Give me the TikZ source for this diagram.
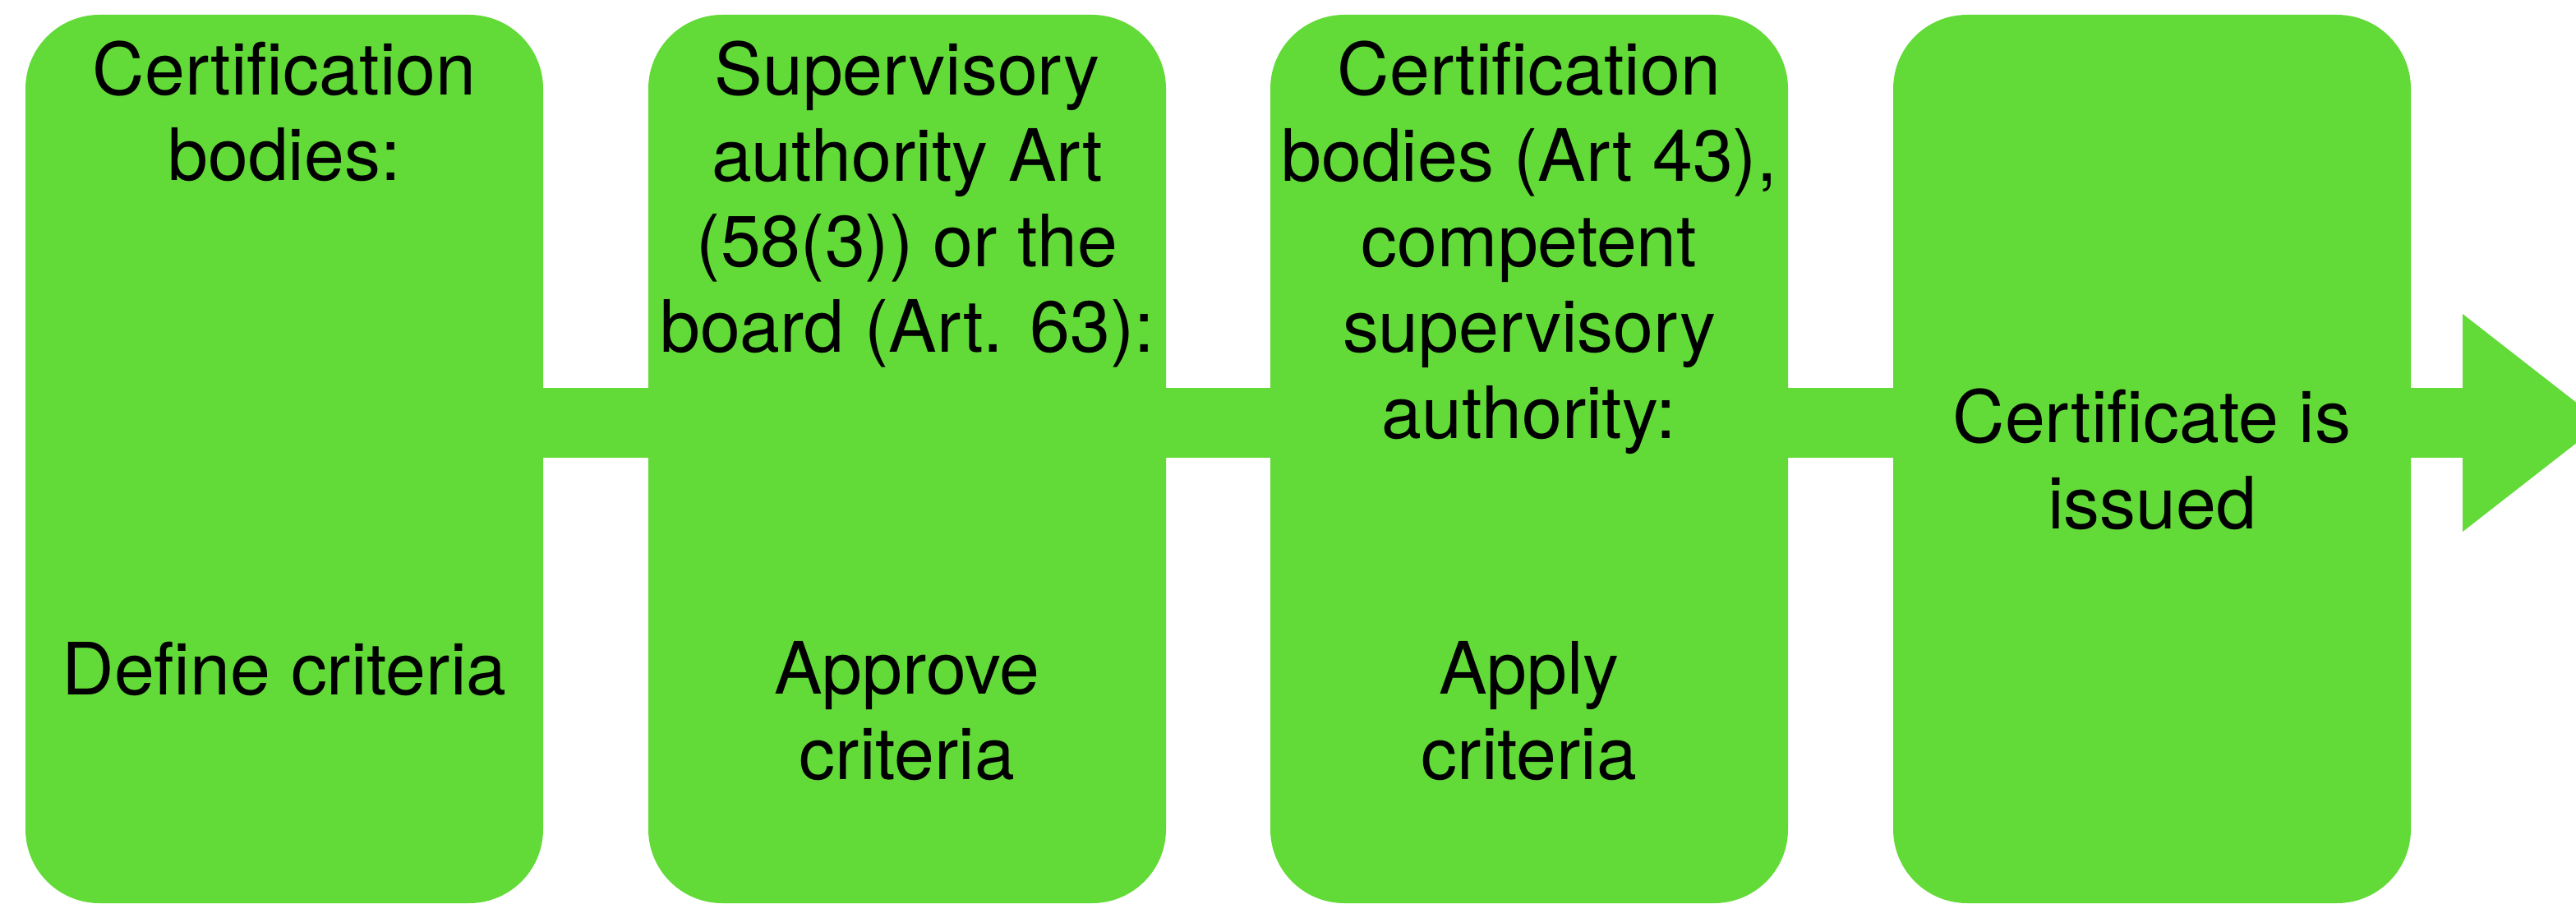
\documentclass[tikz,border=0pt]{standalone}
\usepackage{fontspec}
\setmainfont{TeX Gyre Heros}
\usepackage{xcolor}
\usetikzlibrary{arrows.meta, positioning, calc}
\definecolor{stagegreen}{RGB}{98,218,56}

\tikzset{
  stage/.style={fill=stagegreen, rounded corners=0.9cm, minimum width=6.3cm,
    minimum height=10.81cm, inner sep=0pt},
  stagetext/.style={align=center, inner sep=0pt, anchor=base,
    font=\fontsize{25}{29.7}\selectfont},
  flow/.style={draw=stagegreen, line width=0.85cm, shorten <=-2pt},
}

\begin{document}
\begin{tikzpicture}
\useasboundingbox (0,0) rectangle (31.35,10.99);

% Stages
\foreach \i/\x in {1/3.46, 2/11.04, 3/18.61, 4/26.19}
    \node[stage] (b\i) at (\x,5.405) {};

\coordinate (bar) at (0,5.845);
\coordinate (tip) at (31.67,5.845);

% Flow bar
\draw[flow, shorten >=-2pt] (b1.east |- bar) -- (b2.west |- bar);
\draw[flow, shorten >=-2pt] (b2.east |- bar) -- (b3.west |- bar);
\draw[flow, shorten >=-2pt] (b3.east |- bar) -- (b4.west |- bar);
\draw[flow, -{Triangle[width=2.65cm, length=1.7cm, line width=0pt, fill=stagegreen]}] (b4.east |- bar) -- (tip);

% Who (base = last line)
\node[stagetext] (who1) at ([yshift=-2.025cm]b1.north) {Certification\\bodies:};
\node[stagetext] (who2) at ([yshift=-4.115cm]b2.north) {Supervisory\\authority Art\\(58(3)) or the\\board (Art. 63):};
\node[stagetext] (who3) at ([yshift=-5.16cm]b3.north) {Certification\\bodies (Art 43),\\competent\\supervisory\\authority:};

% What
\node[stagetext] (what1) at ([yshift=2.54cm]b1.south) {Define criteria};
\node[stagetext] (what2) at ([yshift=1.51cm]b2.south) {Approve\\criteria};
\node[stagetext] (what3) at ([yshift=1.51cm]b3.south) {Apply\\criteria};
\node[stagetext] (what4) at ([yshift=-0.845cm]b4.center) {Certificate is\\issued};
\end{tikzpicture}
\end{document}
